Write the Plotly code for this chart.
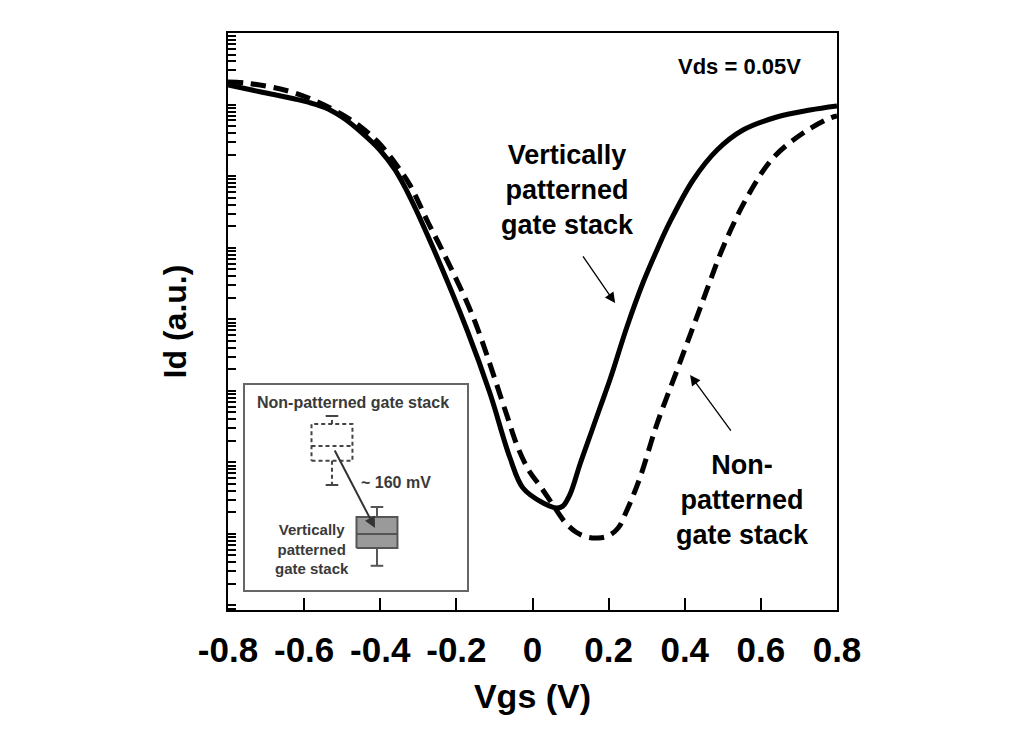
import numpy as np
import plotly.graph_objects as go

# ---- main data: Id (log10 of a.u.) vs Vgs (V) ----
vgs_vertical = [-0.800, -0.713, -0.624, -0.582, -0.537, -0.493, -0.451, -0.401, -0.361,
                -0.322, -0.261, -0.172, -0.112, -0.059, -0.025, 0.028, 0.064, 0.080, 0.099,
                0.125, 0.151, 0.177, 0.204, 0.248, 0.290, 0.327, 0.361, 0.422, 0.485,
                0.553, 0.642, 0.729, 0.800]
log_id_vertical = [-0.727, -0.824, -0.922, -0.978, -1.062, -1.202, -1.383, -1.635, -1.914,
                   -2.292, -3.004, -4.150, -5.031, -5.939, -6.358, -6.568, -6.638, -6.610,
                   -6.442, -6.023, -5.632, -5.240, -4.835, -4.108, -3.494, -3.032, -2.641,
                   -2.054, -1.635, -1.356, -1.174, -1.076, -1.020]

vgs_nonpat = [-0.800, -0.755, -0.687, -0.624, -0.564, -0.503, -0.451, -0.406, -0.361,
              -0.322, -0.275, -0.235, -0.156, -0.072, -0.038, -0.007, 0.020, 0.054, 0.085,
              0.114, 0.143, 0.172, 0.198, 0.225, 0.246, 0.282, 0.327, 0.380, 0.422, 0.458,
              0.501, 0.564, 0.632, 0.711, 0.782, 0.800]
log_id_nonpat = [-0.685, -0.699, -0.755, -0.838, -0.964, -1.132, -1.314, -1.523, -1.817,
                 -2.124, -2.641, -3.060, -3.969, -5.268, -5.799, -6.135, -6.330, -6.596,
                 -6.833, -6.973, -7.043, -7.057, -7.029, -6.917, -6.694, -6.219, -5.464,
                 -4.709, -4.108, -3.591, -2.990, -2.292, -1.747, -1.397, -1.188, -1.160]

x_tick_vals = [-0.8, -0.6, -0.4, -0.2, 0.0, 0.2, 0.4, 0.6, 0.8]
x_tick_text = ["-0.8", "-0.6", "-0.4", "-0.2", "0", "0.2", "0.4", "0.6", "0.8"]
y_decades = [-9, -8, -7, -6, -5, -4, -3, -2, -1]
y_mantissas = [1, 2, 3, 4, 5, 6, 7, 8, 9]

# ---- inset data: relative Vt (mV) box statistics ----
inset_groups = ["Non-patterned", "Vertically patterned"]
inset_pos = [0.0, 1.0]
inset_lower = [89.0, -58.0]
inset_q1 = [133.0, -25.5]
inset_median = [160.0, 0.0]
inset_q3 = [200.0, 31.0]
inset_upper = [214.5, 49.0]

FONT = "Liberation Sans, Arial, sans-serif"

fig = go.Figure()

fig.add_trace(go.Scatter(
    x=vgs_vertical, y=np.power(10.0, log_id_vertical), mode="lines",
    line=dict(color="black", width=5, shape="spline", smoothing=1.0),
    showlegend=False, hoverinfo="skip"))
fig.add_trace(go.Scatter(
    x=vgs_nonpat, y=np.power(10.0, log_id_nonpat), mode="lines",
    line=dict(color="black", width=5, dash="15px,8px", shape="spline", smoothing=1.0),
    showlegend=False, hoverinfo="skip"))

# inset box plots drawn as outlines
half_w = 0.455
cap_w = 0.14
styles = [dict(dash="4px,3px", color="#444444", fill="white"),
          dict(dash="solid", color="#555555", fill="#9a9a9a")]
for i in range(len(inset_groups)):
    p = inset_pos[i]
    st = styles[i]
    fig.add_trace(go.Scatter(
        x=[p - half_w, p + half_w, p + half_w, p - half_w, p - half_w],
        y=[inset_q1[i], inset_q1[i], inset_q3[i], inset_q3[i], inset_q1[i]],
        mode="lines", fill="toself", fillcolor=st["fill"],
        line=dict(color=st["color"], width=2, dash=st["dash"]),
        xaxis="x2", yaxis="y2", showlegend=False, hoverinfo="skip"))
    fig.add_trace(go.Scatter(
        x=[p - half_w, p + half_w], y=[inset_median[i], inset_median[i]],
        mode="lines", line=dict(color=st["color"], width=2, dash=st["dash"]),
        xaxis="x2", yaxis="y2", showlegend=False, hoverinfo="skip"))
    fig.add_trace(go.Scatter(
        x=[p, p, None, p, p],
        y=[inset_q3[i], inset_upper[i], None, inset_q1[i], inset_lower[i]],
        mode="lines", line=dict(color=st["color"], width=2, dash=st["dash"]),
        xaxis="x2", yaxis="y2", showlegend=False, hoverinfo="skip"))
    fig.add_trace(go.Scatter(
        x=[p - cap_w, p + cap_w, None, p - cap_w, p + cap_w],
        y=[inset_upper[i], inset_upper[i], None, inset_lower[i], inset_lower[i]],
        mode="lines", line=dict(color=st["color"], width=2),
        xaxis="x2", yaxis="y2", showlegend=False, hoverinfo="skip"))

y_tick_vals = [m * 10.0 ** d for d in y_decades for m in y_mantissas] + [1.0]

annotations = [
    dict(x=0.545, y=-0.475, xref="x", yref="y", text="Vds = 0.05V", showarrow=False,
         font=dict(family=FONT, size=22, color="black", weight="bold")),
    dict(x=0.091, y=-2.194, xref="x", yref="y",
         text="Vertically<br>patterned<br>gate stack", showarrow=False, align="center",
         font=dict(family=FONT, size=27, color="black", weight="bold")),
    dict(x=0.553, y=-6.526, xref="x", yref="y",
         text="Non-<br>patterned<br>gate stack", showarrow=False, align="center",
         font=dict(family=FONT, size=27, color="black", weight="bold")),
    dict(x=0.217, y=-3.773, ax=0.130, ay=-3.102, xref="x", yref="y", axref="x", ayref="y",
         text="", showarrow=True, arrowhead=2, arrowsize=1.6, arrowwidth=1.3, arrowcolor="black"),
    dict(x=0.414, y=-4.779, ax=0.524, ay=-5.576, xref="x", yref="y", axref="x", ayref="y",
         text="", showarrow=True, arrowhead=2, arrowsize=1.6, arrowwidth=1.3, arrowcolor="black"),
    dict(x=0.467, y=240, xref="x2", yref="y2", text="Non-patterned gate stack",
         showarrow=False, font=dict(family=FONT, size=16, color="#3a3a3a", weight="bold")),
    dict(x=1.43, y=94, xref="x2", yref="y2", text="~ 160 mV",
         showarrow=False, font=dict(family=FONT, size=16, color="#3a3a3a", weight="bold")),
    dict(x=-0.444, y=-27, xref="x2", yref="y2", text="Vertically<br>patterned<br>gate stack",
         showarrow=False, align="center",
         font=dict(family=FONT, size=15, color="#3a3a3a", weight="bold")),
    dict(x=0.956, y=10.9, ax=0.044, ay=154.5, xref="x2", yref="y2", axref="x2", ayref="y2",
         text="", showarrow=True, arrowhead=2, arrowsize=1.1, arrowwidth=2, arrowcolor="#333333"),
]

fig.update_layout(
    width=1020, height=738,
    margin=dict(l=228, r=183, t=33, b=128),
    paper_bgcolor="white", plot_bgcolor="white",
    font=dict(family=FONT, color="black"),
    annotations=annotations,
    xaxis=dict(
        domain=[0, 1], range=[-0.8, 0.8], tickvals=x_tick_vals, ticktext=x_tick_text,
        ticks="inside", ticklen=12, tickwidth=2, tickcolor="black",
        showline=True, linewidth=2, linecolor="black", mirror=True,
        showgrid=False, zeroline=False, ticklabelstandoff=8,
        tickfont=dict(family=FONT, size=35, color="black", weight="bold"),
        title=dict(text="Vgs (V)", standoff=16,
                   font=dict(family=FONT, size=34, color="black", weight="bold")),
    ),
    yaxis=dict(
        type="log", range=[-8.063, 0], tickvals=y_tick_vals, showticklabels=False,
        ticks="inside", ticklen=8, tickwidth=1.5, tickcolor="black",
        showline=True, linewidth=2, linecolor="black", mirror=True,
        showgrid=False, zeroline=False,
        title=dict(text="Id (a.u.)", standoff=30,
                   font=dict(family=FONT, size=32, color="black", weight="bold")),
    ),
    xaxis2=dict(
        domain=[0.0279, 0.3924], anchor="y2", range=[-1.933, 3.0],
        showline=True, linewidth=2, linecolor="#666666", mirror=True,
        showticklabels=False, ticks="", showgrid=False, zeroline=False,
    ),
    yaxis2=dict(
        domain=[0.0347, 0.390], anchor="x2", range=[-102, 271],
        showline=True, linewidth=2, linecolor="#666666", mirror=True,
        showticklabels=False, ticks="", showgrid=False, zeroline=False,
    ),
)

fig.write_html("out.html")
